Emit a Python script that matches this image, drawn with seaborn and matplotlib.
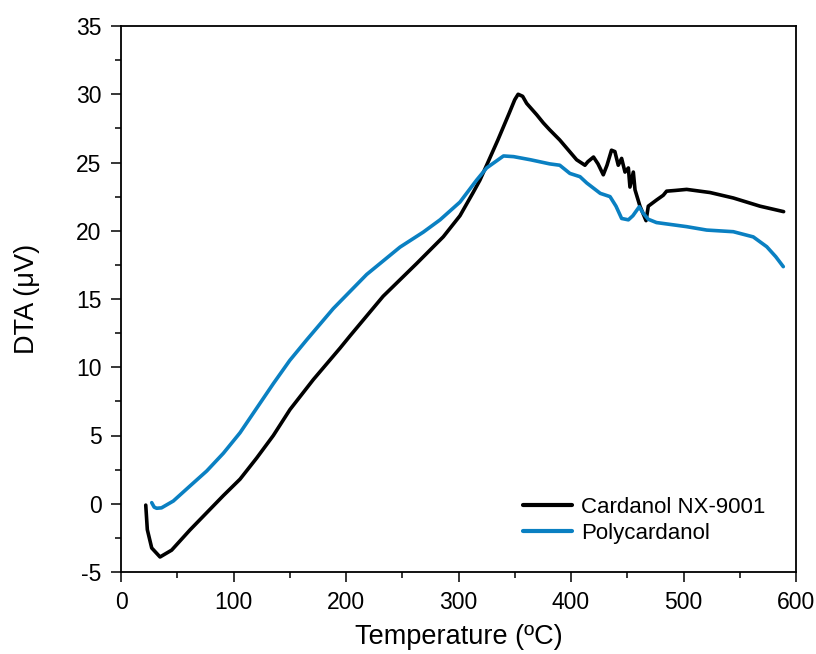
import numpy as np
import pandas as pd
import matplotlib
matplotlib.use("Agg")
import matplotlib.pyplot as plt
import seaborn as sns
from matplotlib.ticker import MultipleLocator

# --- data ---
temp_cardanol = [22, 23.4, 27.3, 34.7, 45, 61.3, 91, 105.8, 120.6, 135.4, 150.2, 171,
                 194.7, 203.6, 233, 262.8, 286.5, 301.3, 313, 319, 325, 335, 345, 350,
                 353, 357, 360.6, 369.5, 375.4, 381, 390, 405, 412.4, 415, 420, 424,
                 428.7, 432, 436, 439, 442, 445, 448, 451, 452.4, 455.4, 456.9, 461.3,
                 466.7, 468.7, 476, 482, 485, 492.4, 502.8, 523.6, 544.3, 568, 589]
dta_cardanol = [-0.1, -1.9, -3.24, -3.9, -3.4, -1.92, 0.6, 1.8, 3.35, 5.0, 6.9, 9.1,
                11.4, 12.3, 15.2, 17.6, 19.56, 21.1, 22.8, 23.7, 24.8, 26.65, 28.6, 29.6,
                30.0, 29.85, 29.33, 28.5, 27.9, 27.4, 26.65, 25.2, 24.8, 25.06, 25.4, 24.9,
                24.1, 24.8, 25.9, 25.8, 24.8, 25.3, 24.3, 24.6, 23.2, 24.3, 23.0, 21.8,
                20.74, 21.8, 22.25, 22.6, 22.9, 22.95, 23.03, 22.8, 22.4, 21.8, 21.4]

temp_poly = [27.3, 29.5, 31.7, 36, 46.5, 61.3, 76.2, 91, 105.8, 120.6, 135.4, 150,
             165, 188.7, 218.4, 248, 268.7, 283.6, 301.3, 316, 325, 340, 349, 364,
             381, 390, 399, 408, 414, 426, 434.7, 440, 445, 451, 455, 460.7, 464,
             468.7, 476, 502.8, 520.6, 544.3, 562, 574, 582, 588.7]
dta_poly = [0.08, -0.25, -0.33, -0.3, 0.2, 1.3, 2.4, 3.7, 5.2, 7.0, 8.8, 10.5,
            12.0, 14.3, 16.8, 18.8, 19.9, 20.8, 22.1, 23.7, 24.6, 25.48, 25.43, 25.2,
            24.9, 24.8, 24.2, 23.96, 23.5, 22.74, 22.5, 21.8, 20.9, 20.8, 21.1, 21.76, 21.3,
            20.84, 20.6, 20.3, 20.05, 19.93, 19.55, 18.83, 18.1, 17.37]

labels = ["Cardanol NX-9001", "Polycardanol"]
colors = ["#000000", "#0A80C2"]

df = pd.concat([
    pd.DataFrame({"Temperature": temp_cardanol, "DTA": dta_cardanol, "Sample": labels[0]}),
    pd.DataFrame({"Temperature": temp_poly, "DTA": dta_poly, "Sample": labels[1]}),
], ignore_index=True)

sns.set_theme(style="ticks")
plt.rcParams["font.family"] = ["Liberation Sans", "DejaVu Sans"]
plt.rcParams["axes.unicode_minus"] = False
plt.rcParams["text.color"] = "black"

fig = plt.figure(figsize=(8.16, 6.54), dpi=100)
ax = fig.add_axes([121/816, 1 - 572/654, 675/816, 546/654])

sns.lineplot(data=df, x="Temperature", y="DTA", hue="Sample", palette=colors,
             hue_order=labels, sort=False, estimator=None, units="Sample",
             linewidth=2.6, ax=ax, legend=True)

ax.set_xlim(0, 600)
ax.set_ylim(-5, 35)
ax.xaxis.set_major_locator(MultipleLocator(100))
ax.xaxis.set_minor_locator(MultipleLocator(50))
ax.yaxis.set_major_locator(MultipleLocator(5))
ax.yaxis.set_minor_locator(MultipleLocator(2.5))
ax.tick_params(axis="both", which="major", direction="out", length=7, width=1.1,
               labelsize=16.5, color="black", labelcolor="black", pad=7)
ax.tick_params(axis="both", which="minor", direction="out", length=4, width=1.1, color="black")
ax.tick_params(top=False, right=False, which="both")
for s in ax.spines.values():
    s.set_visible(True)
    s.set_linewidth(1.3)
    s.set_color("black")

ax.set_xlabel("Temperature (ºC)", fontsize=19.5, color="black", labelpad=7)
ax.set_ylabel("DTA (μV)", fontsize=19.5, color="black", labelpad=26)

leg = ax.legend(loc="upper left", bbox_to_anchor=(0.5956, 0.138), frameon=False,
                fontsize=16, handlelength=2.2, handletextpad=0.4,
                labelspacing=0.22, borderpad=0, borderaxespad=0)
for line in leg.get_lines():
    line.set_linewidth(3)
for t in leg.get_texts():
    t.set_color("black")

fig.savefig("out.png", dpi=100)
